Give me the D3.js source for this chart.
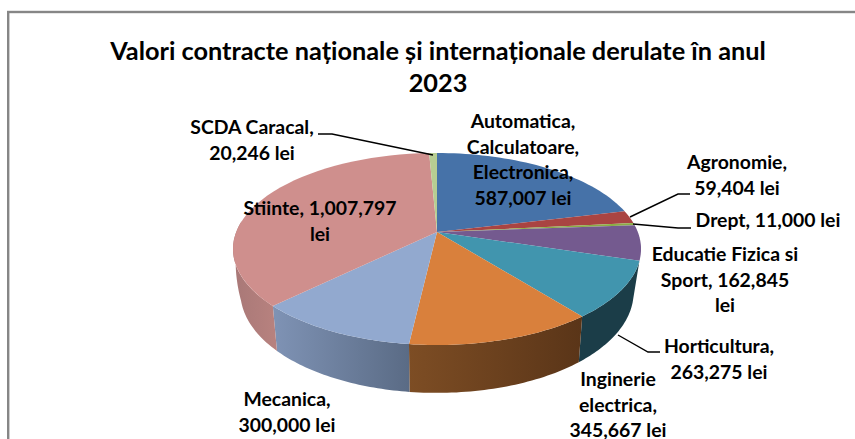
<!DOCTYPE html>
<html><head><meta charset="utf-8">
<script src="https://cdn.jsdelivr.net/npm/d3@7"></script>
<style>html,body{margin:0;padding:0;background:#fff}svg{display:block}
text{font-family:Lato,"Noto Sans",sans-serif;font-weight:700;fill:#000}</style>
</head><body><script>
const titleLines = ["Valori contracte naționale și internaționale derulate în anul", "2023"];
const categories = ["Automatica, Calculatoare, Electronica","Agronomie","Drept","Educatie Fizica si Sport","Horticultura","Inginerie electrica","Mecanica","Stiinte","SCDA Caracal"];
const values = [587007,59404,11000,162845,263275,345667,300000,1007797,20246];
const topColors = ["#4672a8","#a94442","#8bad45","#745a8f","#4195ae","#d9803c","#92a9cf","#cf8f8d","#b7cd92"];
const sideLeft  = ["#34557d","#7d3231","#67803a","#56436a","#1b3d48","#7d4d24","#7f93b5","#a87877","#889868"];
const sideRight = ["#34557d","#7d3231","#67803a","#56436a","#1b3d48","#5a3518","#5a6b85","#b8827f","#889868"];
const labelLines = [["Automatica,","Calculatoare,","Electronica,","587,007 lei"],["Agronomie,","59,404 lei"],["Drept, 11,000 lei"],["Educatie Fizica si","Sport, 162,845","lei"],["Horticultura,","263,275 lei"],["Inginerie","electrica,","345,667 lei"],["Mecanica,","300,000 lei"],["Stiinte, 1,007,797","lei"],["SCDA Caracal,","20,246 lei"]];

const layout = [{x:523,y:128},{x:737,y:169},{x:768,y:227},{x:725,y:261},{x:719,y:353},{x:618,y:386},{x:287,y:406},{x:320,y:215},{x:252,y:134}];
const leaders = [null,[[630,217],[678,194],[690,194]],[[633,224],[678,228],[691,228]],null,[[618,335],[648,352],[660,352]],null,null,null,[[433,155],[332,134],[318,134]]];

const W=855,H=439,cx=437,cy=232,Rx=200.8,Ry=93,P=0.177,D=39.4;
const svg=d3.select("body").append("svg").attr("width",W).attr("height",H);
const defs=svg.append("defs");
svg.append("rect").attr("x",8.2).attr("y",12).attr("width",W).attr("height",H).attr("fill","#fff").attr("stroke","#868686").attr("stroke-width",2.4);

const top2=(a)=>{const w=1+P*Math.cos(a);return [cx+Rx*Math.sin(a)/w, cy-Ry*Math.cos(a)/w];};
const bot2=(a)=>{
  const w=1+P*Math.cos(a), p=top2(a), t=w-0.95;
  const k=t<0 ? 0.966-0.12*t : 0.966+0.2*t+10*t*t;
  return [cx+(p[0]-cx)*k, p[1]+D/w];
};
const line=d3.line();
const arcs=d3.pie().sort(null).value(d=>d)(values);
const samples=(a,b)=>d3.range(0,41).map(i=>a+(b-a)*i/40);

// side walls: the teal slice is the first visible on the right; the left wall tucks under the top face
const visA=arcs[4].startAngle, visB=Math.PI*1.5+0.12;
arcs.forEach((d,i)=>{
  const a=Math.max(d.startAngle,visA), b=Math.min(d.endAngle,visB);
  if(b<=a) return;
  const t=samples(a,b);
  const pts=t.map(top2).concat(t.slice().reverse().map(bot2));
  const g=defs.append("linearGradient").attr("id","g"+i).attr("x1",0).attr("x2",1).attr("y1",0).attr("y2",0);
  g.append("stop").attr("offset",0).attr("stop-color",sideLeft[i]);
  g.append("stop").attr("offset",1).attr("stop-color",sideRight[i]);
  svg.append("path").attr("d",line(pts)+"Z").attr("fill",`url(#g${i})`);
});
// top face
arcs.forEach((d,i)=>{
  const pts=[[cx,cy]].concat(samples(d.startAngle,d.endAngle).map(top2));
  svg.append("path").attr("d",line(pts)+"Z").attr("fill",topColors[i]);
});
// leaders
leaders.forEach(l=>{ if(l) svg.append("path").attr("d",line(l)).attr("fill","none").attr("stroke","#000").attr("stroke-width",1.4);});
// labels
const FS=19.4, LH=25.6;
labelLines.forEach((ls,i)=>{
  const t=svg.append("text").attr("text-anchor","middle").attr("font-size",FS);
  ls.forEach((s,j)=>t.append("tspan").attr("x",layout[i].x).attr("y",layout[i].y+j*LH).text(s));
});
titleLines.forEach((s,j)=>svg.append("text").attr("text-anchor","middle").attr("x",438).attr("y",60+j*31.5).attr("font-size",25.3).text(s));
</script></body></html>
